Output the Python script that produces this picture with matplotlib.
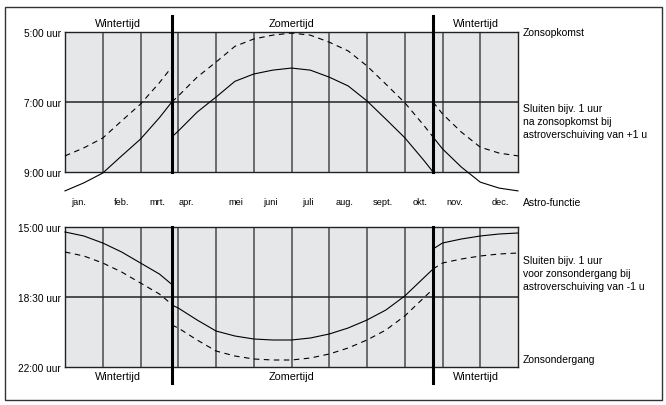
#import libs
import matplotlib
matplotlib.use("Agg")
import numpy as np
import matplotlib.pyplot as plt
from matplotlib.patches import Rectangle

plt.rcParams['font.family'] = ['Liberation Sans', 'DejaVu Sans']

#months (x in month units, 0 = 1 jan, 12 = 31 dec)
months = ["jan.", "feb.", "mrt.", "apr.", "mei", "juni", "juli", "aug.", "sept.", "okt.", "nov.", "dec."]
month_label_x = [0.37, 1.51, 2.44, 3.21, 4.53, 5.43, 6.44, 7.42, 8.42, 9.40, 10.33, 11.52]

#daylight saving switch moments
dst_start = 2.83
dst_end = 9.75

#sunrise in clock time (hours), per period
rise_w1_m = [0, 0.5, 1, 1.5, 2, 2.5, 2.83]
rise_w1_h = [8.54, 8.31, 8.03, 7.54, 7.06, 6.45, 6.0]
rise_s_m = [2.83, 3, 3.5, 4, 4.5, 5, 5.5, 6, 6.5, 7, 7.5, 8, 8.5, 9, 9.5, 9.75]
rise_s_h = [7.0, 6.83, 6.29, 5.86, 5.41, 5.2, 5.09, 5.03, 5.09, 5.29, 5.54, 5.97, 6.49, 7.02, 7.66, 8.0]
rise_w2_m = [9.75, 10, 10.5, 11, 11.5, 12]
rise_w2_h = [7.0, 7.34, 7.86, 8.29, 8.46, 8.54]

#sunset in clock time (hours), per period
set_w1_m = [0, 0.5, 1, 1.5, 2, 2.5, 2.83]
set_w1_h = [16.25, 16.45, 16.8, 17.25, 17.8, 18.35, 18.87]
set_s_m = [2.83, 3, 3.5, 4, 4.5, 5, 5.5, 6, 6.5, 7, 7.5, 8, 8.5, 9, 9.5, 9.75]
set_s_h = [19.9, 20.05, 20.65, 21.2, 21.45, 21.6, 21.65, 21.65, 21.55, 21.35, 21.05, 20.65, 20.15, 19.45, 18.55, 18.1]
set_w2_m = [9.75, 10, 10.5, 11, 11.5, 12]
set_w2_h = [17.1, 16.8, 16.6, 16.45, 16.35, 16.3]

#astro shift (hours)
shift_rise = 1
shift_set = -1

fig = plt.figure(figsize=(6.66, 4.06), dpi=100)
W, H = 666.0, 406.0

#outer frame
fig.patches.append(Rectangle((4.5 / W, 1 - 401 / H), 657 / W, 393 / H, transform=fig.transFigure,
                             fill=False, edgecolor="#333333", linewidth=1.0))

ax1 = fig.add_axes([65 / W, 1 - 173 / H, 453 / W, 140 / H])
ax2 = fig.add_axes([65 / W, 1 - 368 / H, 453 / W, 140 / H])

bg = "#e6e7e8"
grid_c = "#4a4a4a"


def setup(ax, lo, hi, mid, ticks, ticklabels):
    ax.set_facecolor(bg)
    ax.set_xlim(0, 12)
    ax.set_ylim(hi, lo)
    for m in range(1, 12):
        ax.axvline(m, color=grid_c, lw=1.1, zorder=1)
    ax.axhline(mid, color="#222222", lw=1.1, zorder=1)
    ax.set_xticks([])
    ax.set_yticks(ticks)
    ax.set_yticklabels(ticklabels, fontsize=7.3)
    ax.tick_params(axis='y', length=0, pad=3)
    for s in ax.spines.values():
        s.set_color("#222222")
        s.set_linewidth(1.0)


setup(ax1, 5, 9, 7, [5, 7, 9], ["5:00 uur", "7:00 uur", "9:00 uur"])
setup(ax2, 15, 22, 18.5, [15, 18.5, 22], ["15:00 uur", "18:30 uur", "22:00 uur"])

dash = (0, (5, 4))
lw = 0.8

#top panel: sunrise (dashed) and astro +1 u (solid)
for mm, hh in [(rise_w1_m, rise_w1_h), (rise_s_m, rise_s_h), (rise_w2_m, rise_w2_h)]:
    hh = np.array(hh)
    ax1.plot(mm, hh, color="black", lw=lw, linestyle=dash, clip_on=False, zorder=3)
    ax1.plot(mm, hh + shift_rise, color="black", lw=lw, clip_on=False, zorder=3)

#bottom panel: sunset (dashed) and astro -1 u (solid)
for mm, hh in [(set_w1_m, set_w1_h), (set_s_m, set_s_h), (set_w2_m, set_w2_h)]:
    hh = np.array(hh)
    ax2.plot(mm, hh, color="black", lw=lw, linestyle=dash, clip_on=False, zorder=3)
    ax2.plot(mm, hh + shift_set, color="black", lw=lw, clip_on=False, zorder=3)

#thick DST lines
for d in [dst_start, dst_end]:
    ax1.plot([d, d], [0, 1 + 16 / 140], color="black", lw=2.2, transform=ax1.get_xaxis_transform(),
             clip_on=False, zorder=4)
    ax2.plot([d, d], [-16 / 140, 1], color="black", lw=2.2, transform=ax2.get_xaxis_transform(),
             clip_on=False, zorder=4)

#period labels
for ax, y, va in [(ax1, 1 + 9 / 140, 'center'), (ax2, -9 / 140, 'center')]:
    ax.text(dst_start / 2, y, "Wintertijd", transform=ax.get_xaxis_transform(), ha='center', va=va, fontsize=7.8)
    ax.text(6, y, "Zomertijd", transform=ax.get_xaxis_transform(), ha='center', va=va, fontsize=7.8)
    ax.text((dst_end + 12) / 2, y, "Wintertijd", transform=ax.get_xaxis_transform(), ha='center', va=va, fontsize=7.8)

#month labels
for lbl, x in zip(months, month_label_x):
    ax1.text(x, -30 / 140, lbl, transform=ax1.get_xaxis_transform(), ha='center', va='center', fontsize=6.7)

#right side labels
tx = 12.13
ax1.text(tx, 5, "Zonsopkomst", ha='left', va='center', fontsize=7.5)
ax1.text(tx, 7.55, "Sluiten bijv. 1 uur\nna zonsopkomst bij\nastroverschuiving van +1 u",
         ha='left', va='center', fontsize=7.5, linespacing=1.35)
ax1.text(tx, -30 / 140, "Astro-functie", transform=ax1.get_xaxis_transform(), ha='left', va='center', fontsize=7.5)
ax2.text(tx, 17.3, "Sluiten bijv. 1 uur\nvoor zonsondergang bij\nastroverschuiving van -1 u",
         ha='left', va='center', fontsize=7.5, linespacing=1.35)
ax2.text(tx, 21.6, "Zonsondergang", ha='left', va='center', fontsize=7.5)

fig.savefig("out.png", dpi=100)
